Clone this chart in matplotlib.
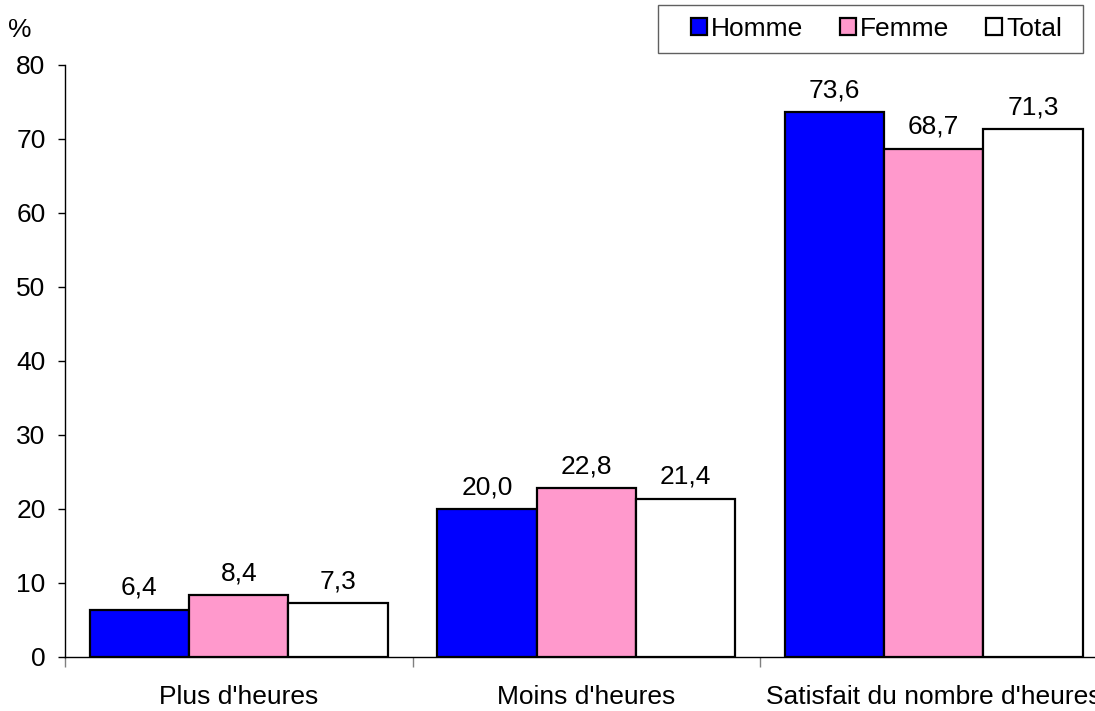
import matplotlib
matplotlib.use("Agg")
import matplotlib.pyplot as plt
from matplotlib.patches import Rectangle
import numpy as np

categories = ["Plus d'heures", "Moins d'heures", "Satisfait du nombre d'heures"]
series = ["Homme", "Femme", "Total"]
homme = [6.4, 20.0, 73.6]
femme = [8.4, 22.8, 68.7]
total = [7.3, 21.4, 71.3]
colors = ["#0000ff", "#ff99cc", "#ffffff"]

plt.rcParams['font.family'] = ['Liberation Sans', 'DejaVu Sans']
fs = 19
W, H = 1095, 711

fig = plt.figure(figsize=(10.95, 7.11), dpi=100)
ax = fig.add_axes([65 / W, 54 / H, 1030 / W, 592 / H])

x = np.arange(len(categories))
w = 0.286
handles = []
for k, (vals, col, name) in enumerate(zip([homme, femme, total], colors, series)):
    bars = ax.bar(x + (k - 1) * w, vals, w, color=col, edgecolor="black",
                  linewidth=1.6, label=name, zorder=3)
    handles.append(bars)
    for xi, v in zip(x + (k - 1) * w, vals):
        ax.annotate(f"{v:.1f}".replace(".", ","), (xi, v), xytext=(0, 7),
                    textcoords="offset points", ha="center", va="bottom", fontsize=fs)

ax.set_xlim(-0.5, 2.464)
ax.set_ylim(0, 80)
ax.set_yticks(range(0, 81, 10))
ax.tick_params(axis="y", labelsize=fs, length=5, width=1, pad=9)
ax.set_xticks(x)
ax.set_xticklabels(categories, fontsize=fs)
ax.tick_params(axis="x", which="major", length=0, pad=20)
ax.set_xticks([-0.5, 0.5, 1.5], minor=True)
ax.tick_params(axis="x", which="minor", length=7, width=1, color="gray")

for s in ["top", "right"]:
    ax.spines[s].set_visible(False)
ax.spines["left"].set_linewidth(1)
ax.spines["bottom"].set_linewidth(1)

fig.text(20 / W, 1 - 30 / H, "%", fontsize=fs, ha="center", va="center")

# legend frame drawn separately to get the wide left padding
fig.patches.append(Rectangle((658 / W, 1 - 53 / H), 425 / W, 48 / H,
                             transform=fig.transFigure, facecolor="white",
                             edgecolor="#606060", linewidth=1))
leg = fig.legend(handles=handles, labels=series, loc="center right",
                 bbox_to_anchor=(1062 / W, 1 - 29 / H), ncol=3, fontsize=fs,
                 frameon=False, handlelength=0.6, handleheight=0.6,
                 handletextpad=0.15, columnspacing=1.4, borderpad=0,
                 borderaxespad=0)

fig.savefig("out.png", dpi=100)
